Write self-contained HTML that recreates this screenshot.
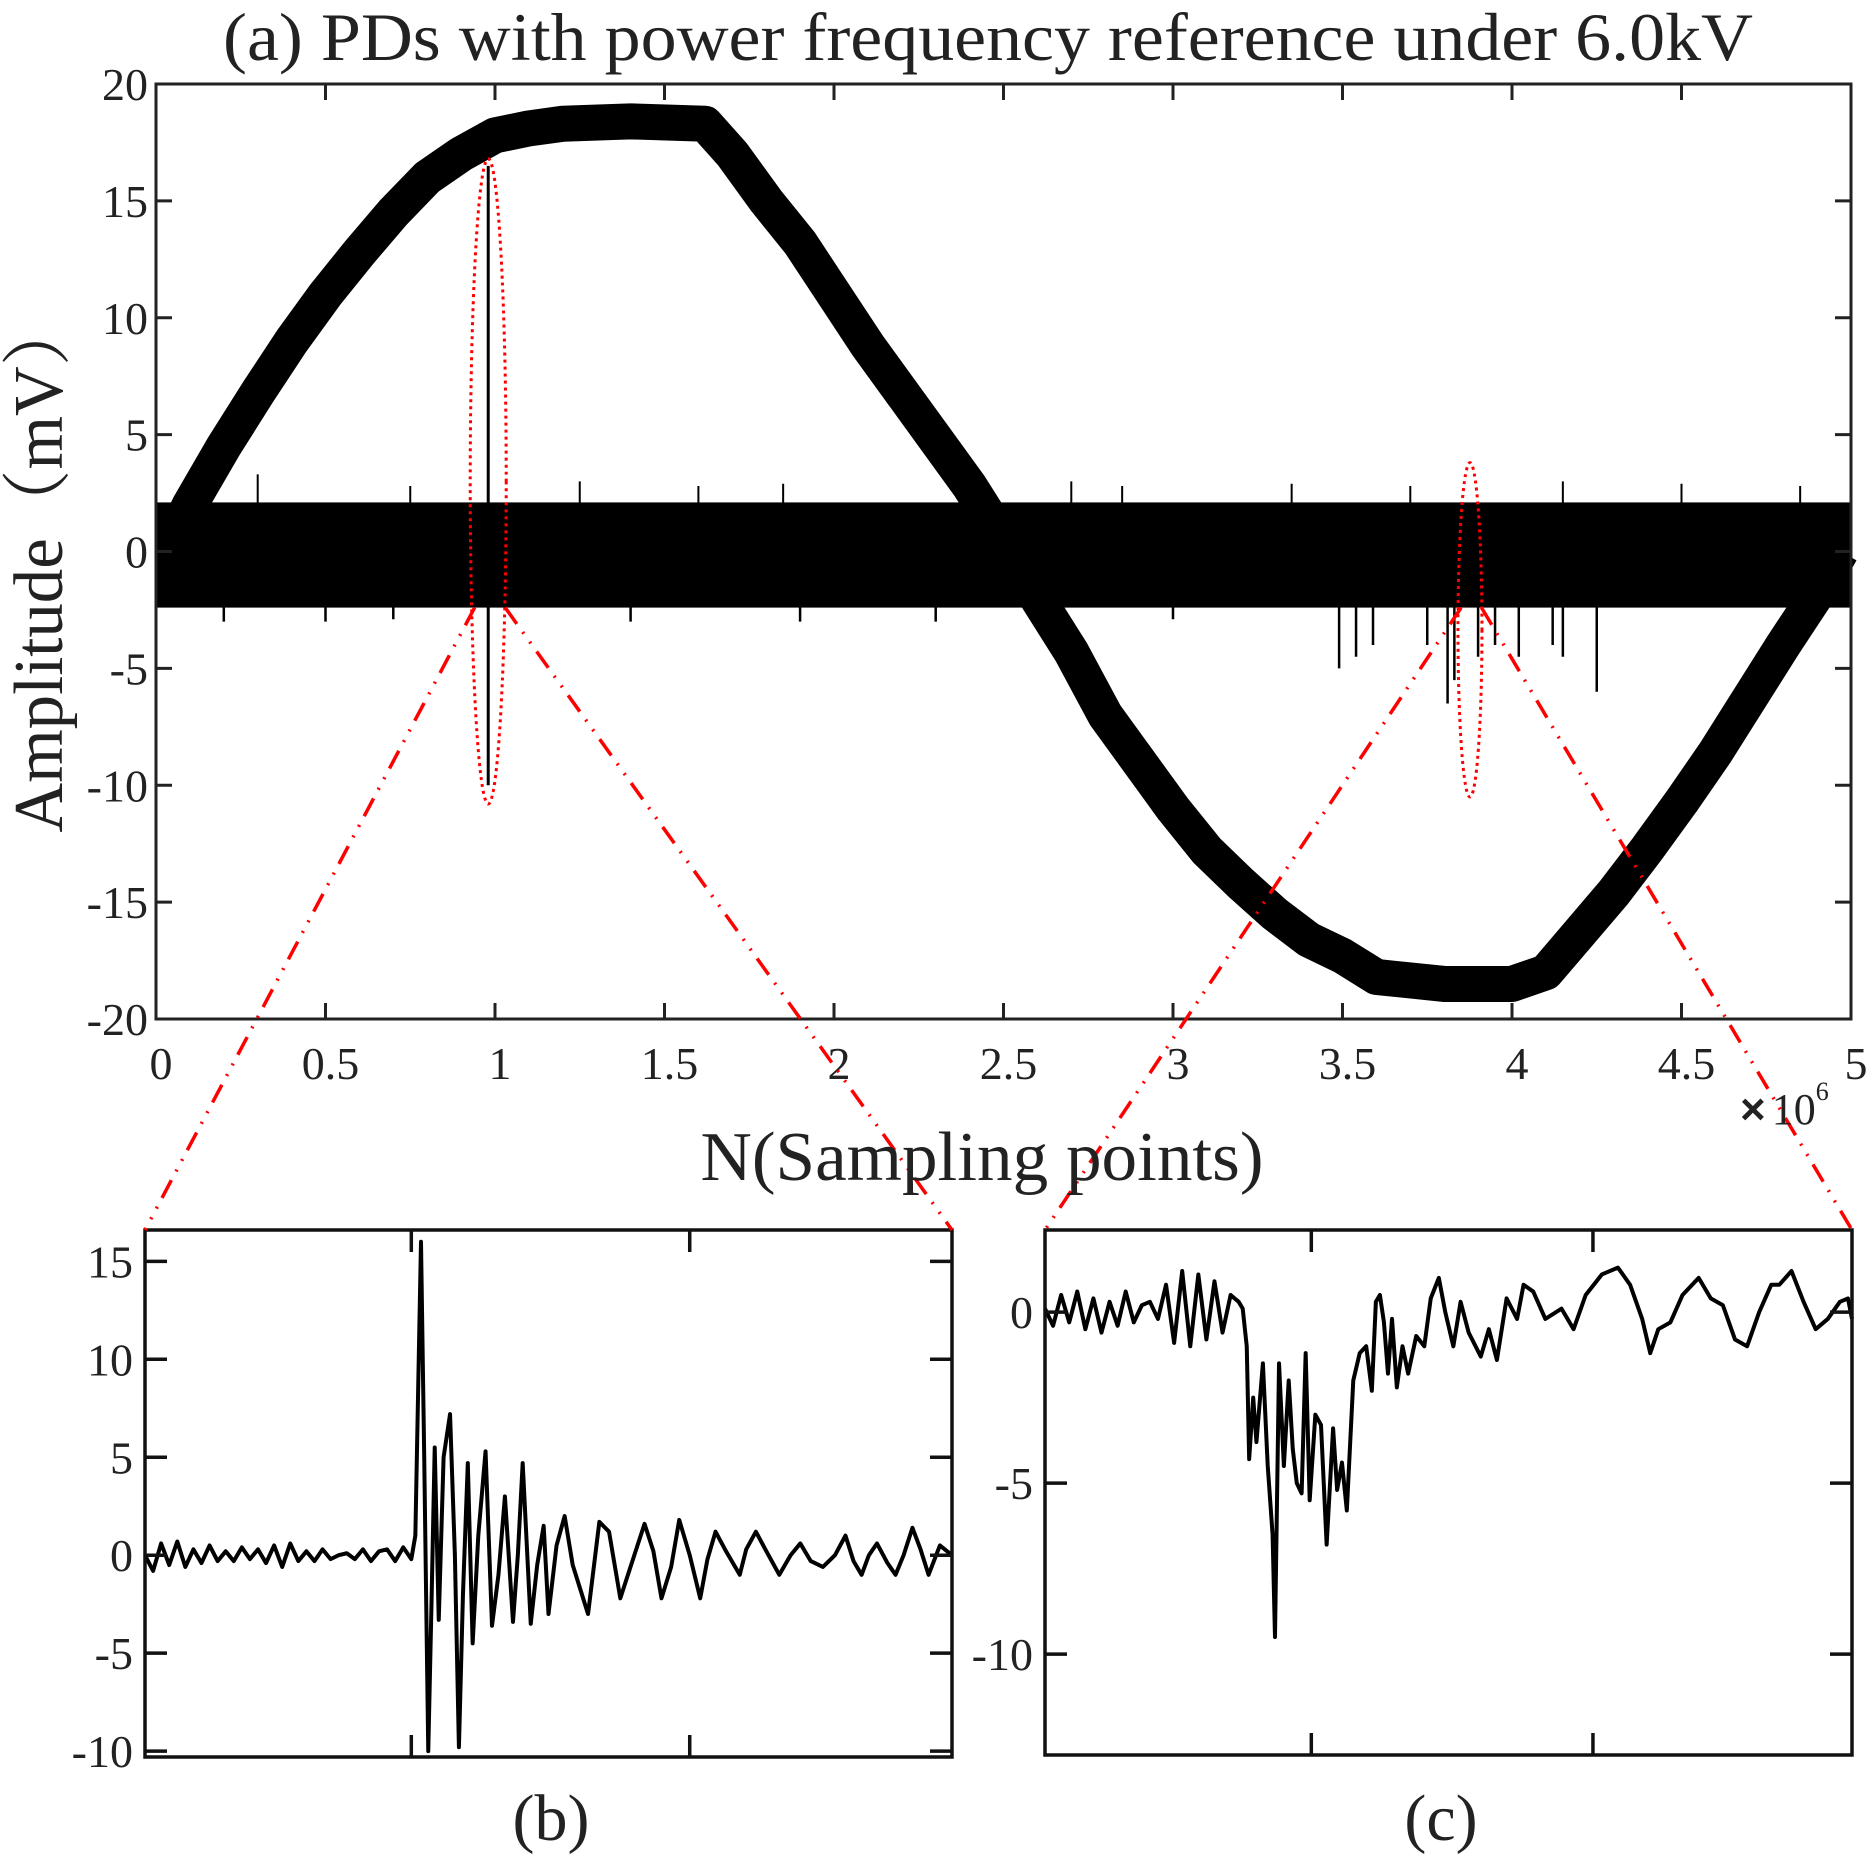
<!DOCTYPE html>
<html><head><meta charset="utf-8"><style>
html,body{margin:0;padding:0;background:#fff;}
svg{display:block;font-family:"Liberation Serif",serif;}
</style></head><body>
<svg id="fig" width="1874" height="1863" viewBox="0 0 1874 1863" xmlns="http://www.w3.org/2000/svg">
<rect width="1874" height="1863" fill="#fff"/>
<text x="988" y="60" font-size="68" text-anchor="middle" fill="#222" textLength="1530" lengthAdjust="spacingAndGlyphs">(a) PDs with power frequency reference  under 6.0kV</text>
<g id="main"></g>
<g id="pb"></g>
<g id="pc"></g>
<g id="zoomlines"></g>
<text transform="translate(62,565) rotate(-90)" font-size="70" text-anchor="middle" fill="#222" font-family="Liberation Serif, Noto Serif CJK SC, serif" textLength="535" lengthAdjust="spacingAndGlyphs">Amplitude（mV）</text>
<text x="982" y="1180" font-size="70" text-anchor="middle" fill="#222" textLength="563" lengthAdjust="spacingAndGlyphs">N(Sampling points)</text>
<text x="1740" y="1124" font-size="44" fill="#222"><tspan font-family="Liberation Sans, sans-serif" font-weight="bold">×</tspan><tspan dx="6">10</tspan><tspan dy="-24" font-size="26">6</tspan></text>
<text x="551" y="1840" font-size="66" text-anchor="middle" fill="#222">(b)</text>
<text x="1441" y="1840" font-size="66" text-anchor="middle" fill="#222">(c)</text>
</svg>
<script>
// ---- main chart data ----
const xTicks = [0,0.5,1,1.5,2,2.5,3,3.5,4,4.5,5];
const xTickLabels = ["0","0.5","1","1.5","2","2.5","3","3.5","4","4.5","5"];
const yTicks = [-20,-15,-10,-5,0,5,10,15,20];
const yTickLabels = ["-20","-15","-10","-5","0","5","10","15","20"];
const refX = [0.05,0.1,0.2,0.3,0.4,0.5,0.6,0.7,0.8,0.9,1.0,1.1,1.2,1.4,1.62,1.7,1.8,1.9,2.0,2.1,2.2,2.3,2.4,2.5,2.6,2.7,2.8,2.9,3.0,3.1,3.2,3.3,3.4,3.5,3.6,3.8,4.0,4.1,4.2,4.3,4.4,4.5,4.6,4.7,4.8,4.9,4.97];
const refY = [0.5,2,4.5,6.8,9,11,12.8,14.5,16,17,17.8,18.1,18.3,18.4,18.3,17,15,13.2,11,8.8,6.8,4.8,2.8,0.5,-2,-4.3,-7,-9,-11,-12.8,-14.2,-15.5,-16.6,-17.3,-18.2,-18.5,-18.5,-18,-16.3,-14.6,-12.7,-10.7,-8.6,-6.3,-4,-1.8,0];
const noiseTop = 2.1, noiseBottom = -2.4;
const posSpikeX = [0.3,0.75,1.25,1.6,1.85,2.7,2.85,3.35,3.7,4.15,4.5,4.85];
const posSpikeY = [3.3,2.8,3.0,2.8,2.9,3.0,2.8,2.9,2.8,3.0,2.9,2.8];
const negSpikeX = [0.2,0.5,0.7,1.4,1.9,2.3,3.0,3.49,3.54,3.59,3.75,3.81,3.83,3.9,3.95,4.02,4.12,4.15,4.25];
const negSpikeY = [-3.0,-3.0,-2.9,-3.0,-3.0,-3.0,-2.9,-5,-4.5,-4,-4,-6.5,-5.5,-4.5,-4,-4.5,-4,-4.5,-6];
const pdPulseX = [0.98];
const pdPulseTop = [16.5];
const pdPulseBottom = [-10];
const ellipseCX = [0.98, 3.876];
const ellipseTop = [16.8, 3.8];
const ellipseBottom = [-10.8, -10.5];

// ---- inset b data ----
const bYTicks = [-10,-5,0,5,10,15];
const bYTickLabels = ["-10","-5","0","5","10","15"];
const bX = [0,0.01,0.02,0.03,0.04,0.05,0.06,0.07,0.08,0.09,0.1,0.11,0.12,0.13,0.14,0.15,0.16,0.17,0.18,0.19,0.2,0.21,0.22,0.23,0.24,0.25,0.26,0.27,0.28,0.29,0.3,0.31,0.32,0.33,0.335,0.342,0.346,0.351,0.355,0.359,0.364,0.370,0.378,0.384,0.389,0.394,0.400,0.406,0.413,0.422,0.430,0.438,0.446,0.456,0.462,0.468,0.478,0.486,0.494,0.500,0.51,0.52,0.53,0.549,0.563,0.575,0.589,0.60,0.619,0.63,0.64,0.652,0.662,0.675,0.688,0.697,0.707,0.72,0.737,0.745,0.757,0.77,0.786,0.80,0.812,0.825,0.84,0.855,0.868,0.878,0.888,0.897,0.907,0.92,0.93,0.94,0.951,0.961,0.971,0.985,1.0];
const bY = [0,-0.8,0.6,-0.5,0.7,-0.6,0.3,-0.4,0.5,-0.3,0.2,-0.3,0.4,-0.2,0.3,-0.4,0.5,-0.6,0.6,-0.3,0.2,-0.3,0.3,-0.2,0,0.1,-0.2,0.3,-0.3,0.2,0.3,-0.3,0.4,-0.2,1,16,5,-10,-2.5,5.5,-3.3,5,7.2,0,-9.8,-2,4.7,-4.5,1,5.3,-3.6,-1,3,-3.4,0,4.7,-3.5,-0.5,1.5,-3,0.5,2,-0.5,-3,1.7,1.2,-2.2,-0.8,1.6,0.2,-2.2,-0.6,1.8,0,-2.2,-0.2,1.2,0.2,-1,0.3,1.2,0.2,-1,0,0.6,-0.3,-0.6,0,1,-0.3,-1,0,0.6,-0.4,-1,0,1.4,0.3,-1,0.5,0];

// ---- inset c data ----
const cYTicks = [-10,-5,0];
const cYTickLabels = ["-10","-5","0"];
const cX = [0,0.01,0.02,0.03,0.04,0.05,0.06,0.07,0.08,0.09,0.1,0.11,0.12,0.13,0.14,0.15,0.16,0.17,0.18,0.19,0.2,0.21,0.22,0.23,0.24,0.245,0.25,0.253,0.258,0.262,0.27,0.276,0.282,0.285,0.29,0.296,0.302,0.307,0.312,0.318,0.323,0.328,0.335,0.342,0.349,0.357,0.362,0.368,0.374,0.382,0.39,0.398,0.405,0.41,0.415,0.42,0.425,0.43,0.436,0.443,0.45,0.46,0.47,0.478,0.488,0.496,0.506,0.515,0.525,0.54,0.55,0.56,0.572,0.585,0.593,0.605,0.62,0.64,0.655,0.67,0.69,0.71,0.725,0.74,0.75,0.76,0.775,0.79,0.81,0.825,0.84,0.855,0.87,0.885,0.9,0.91,0.925,0.94,0.955,0.97,0.985,0.995,1.0];
const cY = [0.1,-0.4,0.5,-0.3,0.6,-0.5,0.4,-0.6,0.3,-0.4,0.6,-0.3,0.2,0.3,-0.2,0.8,-0.9,1.2,-1,1.1,-0.8,0.9,-0.6,0.5,0.3,0.1,-1,-4.3,-2.5,-3.8,-1.5,-4.5,-6.5,-9.5,-1.5,-4.5,-2,-4,-5,-5.3,-1.2,-5.5,-3,-3.3,-6.8,-3.4,-5.2,-4.4,-5.8,-2,-1.2,-1,-2.3,0.3,0.5,-0.3,-1.8,-0.2,-2.2,-1,-1.8,-0.7,-1,0.4,1,0,-1,0.3,-0.6,-1.3,-0.5,-1.4,0.4,-0.2,0.8,0.6,-0.2,0.1,-0.5,0.5,1.1,1.3,0.8,-0.2,-1.2,-0.5,-0.3,0.5,1,0.4,0.2,-0.8,-1,0,0.8,0.8,1.2,0.3,-0.5,-0.2,0.3,0.4,-0.2];

const NS = "http://www.w3.org/2000/svg";
function mk(tag, attrs, parent){const e=document.createElementNS(NS,tag);for(const k in attrs)e.setAttribute(k,attrs[k]);parent.appendChild(e);return e;}

const M = {l:156,r:1851,t:84,b:1019};
const mx = v => M.l + v/5*(M.r-M.l);
const my = v => M.b - (v+20)/40*(M.b-M.t);
const main = document.getElementById('main');

const band = mk('rect',{x:M.l,y:my(noiseTop),width:M.r-M.l,height:my(noiseBottom)-my(noiseTop),fill:'#000'},main);


const refPts = refX.map((x,i)=>mx(x)+','+my(refY[i])).join(' ');
const ref = mk('polyline',{points:refPts,fill:'none',stroke:'#000','stroke-width':36,'stroke-linejoin':'round','stroke-linecap':'butt'},main);


posSpikeX.forEach((x,i)=>{
  const s = mk('line',{x1:mx(x),x2:mx(x),y1:my(0),y2:my(posSpikeY[i]),stroke:'#000','stroke-width':2},main);
  
  
});
negSpikeX.forEach((x,i)=>{
  const s = mk('line',{x1:mx(x),x2:mx(x),y1:my(0),y2:my(negSpikeY[i]),stroke:'#000','stroke-width':2.5},main);
  
  
});
pdPulseX.forEach((x,i)=>{
  const s = mk('line',{x1:mx(x),x2:mx(x),y1:my(pdPulseTop[i]),y2:my(pdPulseBottom[i]),stroke:'#000','stroke-width':3},main);
  
  
});
const frame = mk('rect',{x:M.l,y:M.t,width:M.r-M.l,height:M.b-M.t,fill:'none',stroke:'#222','stroke-width':3},main);


xTicks.forEach((v,i)=>{
  const x=mx(v);
  mk('line',{x1:x,x2:x,y1:M.b,y2:M.b-16,stroke:'#222','stroke-width':3},main);
  mk('line',{x1:x,x2:x,y1:M.t,y2:M.t+16,stroke:'#222','stroke-width':3},main);
  const t = mk('text',{x:x+5,y:M.b+60,'font-size':46,'text-anchor':'middle',fill:'#222'},main);
  t.textContent = xTickLabels[i];
  
  
});
yTicks.forEach((v,i)=>{
  const y=my(v);
  mk('line',{x1:M.l,x2:M.l+16,y1:y,y2:y,stroke:'#222','stroke-width':3},main);
  mk('line',{x1:M.r,x2:M.r-16,y1:y,y2:y,stroke:'#222','stroke-width':3},main);
  const t = mk('text',{x:M.l-8,y:y+16,'font-size':46,'text-anchor':'end',fill:'#222'},main);
  t.textContent = yTickLabels[i];
  
  
});
const ellW = [18, 12];
ellipseCX.forEach((x,i)=>{
  const e = mk('ellipse',{cx:mx(x),cy:(my(ellipseTop[i])+my(ellipseBottom[i]))/2,rx:ellW[i],ry:(my(ellipseBottom[i])-my(ellipseTop[i]))/2,fill:'none',stroke:'#f00','stroke-width':3,'stroke-dasharray':'3 4'},main);
  
  
});

function inset(g, box, ymin, ymax, ticks, labels, xs, ys, xtickFr){
  const ix = v => box.l + v*(box.r-box.l);
  const iy = v => box.b - (v-ymin)/(ymax-ymin)*(box.b-box.t);
  const pts = xs.map((x,i)=>ix(x)+','+iy(ys[i])).join(' ');
  const ln = mk('polyline',{points:pts,fill:'none',stroke:'#000','stroke-width':4,'stroke-linejoin':'round'},g);
  
  
  const fr = mk('rect',{x:box.l,y:box.t,width:box.r-box.l,height:box.b-box.t,fill:'none',stroke:'#111','stroke-width':3.5},g);
  
  
  ticks.forEach((v,i)=>{
    const y=iy(v);
    mk('line',{x1:box.l,x2:box.l+22,y1:y,y2:y,stroke:'#111','stroke-width':3.5},g);
    mk('line',{x1:box.r,x2:box.r-22,y1:y,y2:y,stroke:'#111','stroke-width':3.5},g);
    const t = mk('text',{x:box.l-12,y:y+16,'font-size':46,'text-anchor':'end',fill:'#222'},g);
    t.textContent = labels[i];
    
    
  });
  xtickFr.forEach(f=>{
    const x=ix(f);
    mk('line',{x1:x,x2:x,y1:box.b,y2:box.b-22,stroke:'#111','stroke-width':3.5},g);
    mk('line',{x1:x,x2:x,y1:box.t,y2:box.t+22,stroke:'#111','stroke-width':3.5},g);
  });
}
const B = {l:145,r:952,t:1230,b:1757};
const C = {l:1045,r:1852,t:1230,b:1755};
inset(document.getElementById('pb'), B, -10.3, 16.6, bYTicks, bYTickLabels, bX, bY, [0.33,0.675]);
inset(document.getElementById('pc'), C, -12.95, 2.4, cYTicks, cYTickLabels, cX, cY, [0.33,0.679]);

const zl = document.getElementById('zoomlines');
const conns = [
  [mx(0.94),my(-2.4),B.l,B.t],[mx(1.03),my(-2.4),B.r,B.t],
  [mx(3.85),my(-2.4),C.l,C.t],[mx(3.91),my(-2.4),C.r,C.t]
];
conns.forEach(c=>{
  const l = mk('line',{x1:c[0],y1:c[1],x2:c[2],y2:c[3],stroke:'#f00','stroke-width':3.5,'stroke-dasharray':'20 10 2 10 2 10'},zl);
  
  
});
</script>
</body></html>
